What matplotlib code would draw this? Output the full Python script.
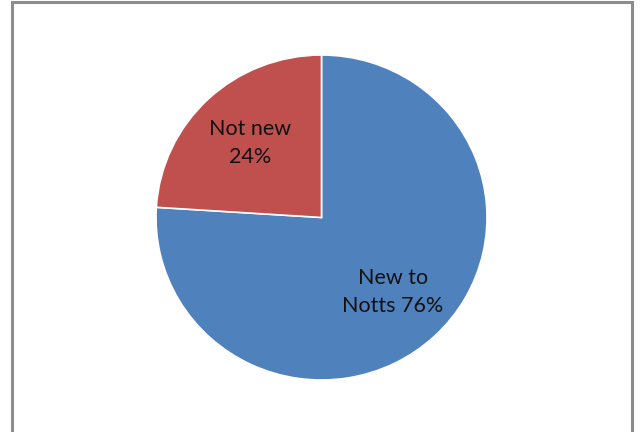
import matplotlib.pyplot as plt
from matplotlib.patches import Rectangle

# share of respondents
categories = ["New to\nNotts", "Not new"]
shares = [76, 24]
colors = ["#4F81BD", "#C0504D"]

W, H = 641, 432
k = 165.5 / 162.5  # pie is drawn a touch squashed vertically

fig = plt.figure(figsize=(W / 100, H / 100), dpi=100)
ax = fig.add_axes([0, 0, 1, 1])

# chart area frame (bottom edge runs off the image)
ax.add_patch(Rectangle((11.5, -20 * k), 620.5, 449.5 * k, fill=False,
                       edgecolor="#8c8c8c", linewidth=2.2))

labels = [f"{c} {v}%" if "\n" in c else f"{c}\n{v}%" for c, v in zip(categories, shares)]
wedges, texts = ax.pie(shares, colors=colors, startangle=90, counterclock=False,
                       center=(321.5, (H - 217.5) * k), radius=165.5, labels=labels,
                       labeldistance=0.63,
                       wedgeprops=dict(edgecolor="white", linewidth=1.2),
                       textprops=dict(fontsize=15.5, family="Lato", color="#111111"))
ax.set_aspect("auto")
ax.set_xlim(0, W)
ax.set_ylim(0, H * k)
ax.axis("off")
for t in texts:
    t.set_ha("center")
    t.set_va("center")
    t.set_multialignment("center")
    t.set_linespacing(1.5)

fig.savefig("out.png", dpi=100)
